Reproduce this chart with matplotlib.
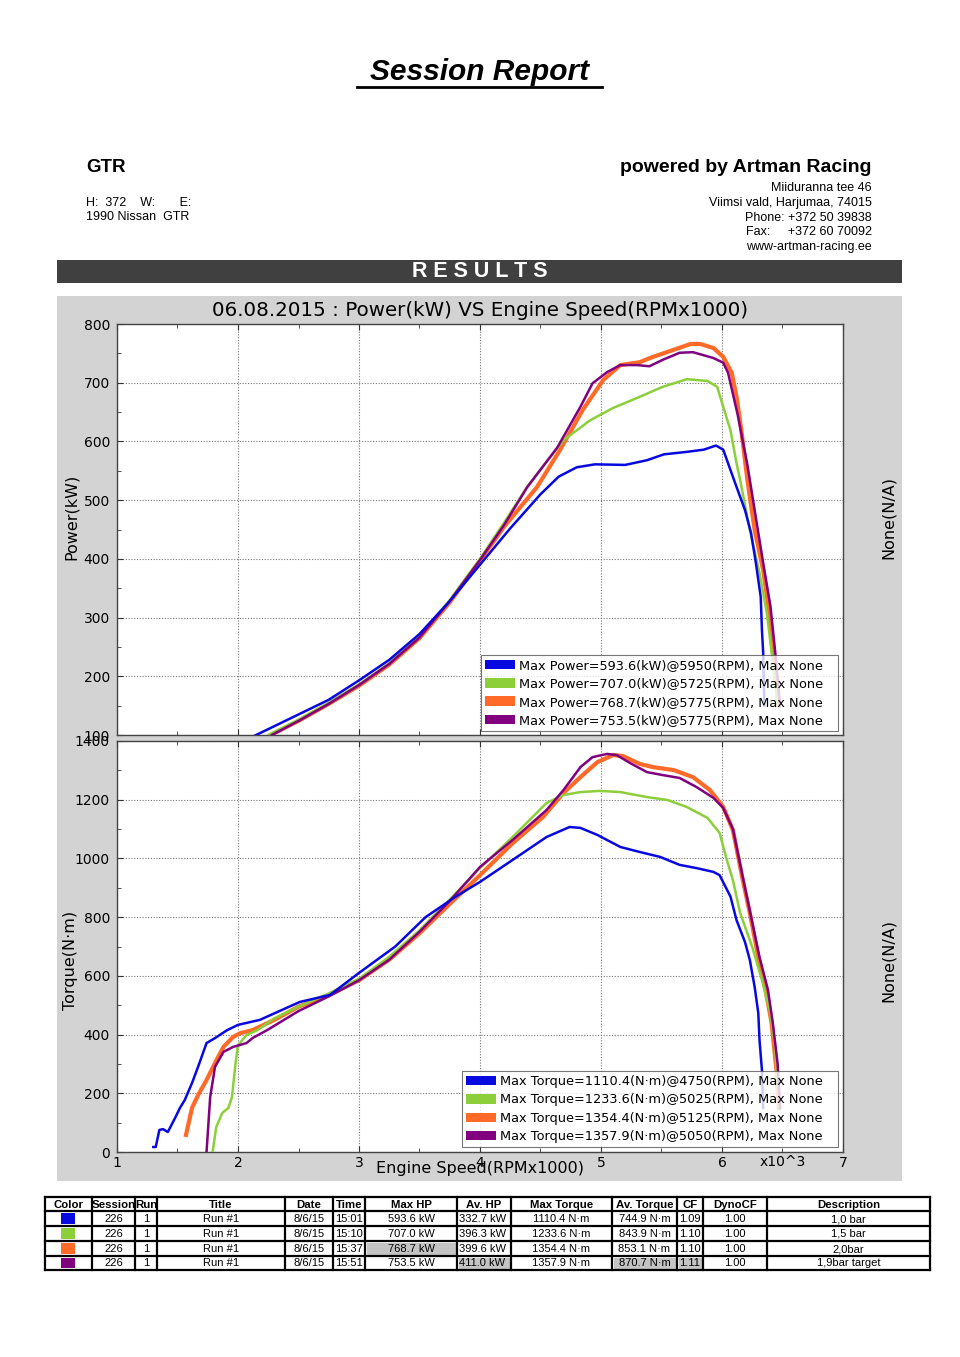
import matplotlib
matplotlib.use("Agg")
import matplotlib.pyplot as plt
from matplotlib.patches import Rectangle, Patch
from matplotlib.ticker import MultipleLocator

# ---------------- data ----------------
series_colors = ["#0808e0", "#8ccf3a", "#ff6a28", "#800080"]
series_lw = [1.8, 1.8, 3.0, 1.8]

max_power = [593.6, 707.0, 768.7, 753.5]
max_power_rpm = [5950, 5725, 5775, 5775]
max_torque = [1110.4, 1233.6, 1354.4, 1357.9]
max_torque_rpm = [4750, 5025, 5125, 5050]

# power curves (rpm x1000, kW)
blue_p_rpm = [2.10, 2.30, 2.50, 2.75, 3.00, 3.25, 3.50, 3.75, 4.00, 4.25, 4.50, 4.65, 4.80, 4.95, 5.20, 5.38, 5.52, 5.70, 5.85, 5.95, 6.01, 6.10, 6.19, 6.24, 6.28, 6.32, 6.33, 6.34, 6.35]
blue_p_kw = [95, 115, 135, 160, 193, 228, 272, 328, 390, 452, 510, 540, 556, 561, 560, 568, 578, 582, 586, 593, 586, 534, 483, 444, 393, 335, 279, 241, 150]

green_p_rpm = [2.25, 2.50, 2.75, 3.00, 3.25, 3.50, 3.75, 4.00, 4.20, 4.39, 4.69, 4.91, 5.10, 5.32, 5.51, 5.71, 5.88, 5.96, 6.01, 6.07, 6.12, 6.15, 6.23, 6.31, 6.37, 6.41, 6.46]
green_p_kw = [100, 126, 155, 186, 222, 268, 330, 400, 462, 523, 602, 636, 657, 676, 693, 706, 703, 693, 659, 619, 563, 534, 449, 376, 308, 241, 150]

orange_p_rpm = [2.27, 2.50, 2.75, 3.00, 3.25, 3.50, 3.75, 4.00, 4.20, 4.47, 4.66, 4.85, 5.02, 5.16, 5.32, 5.43, 5.60, 5.74, 5.82, 5.93, 6.01, 6.08, 6.12, 6.16, 6.21, 6.27, 6.34, 6.38, 6.42, 6.47]
orange_p_kw = [100, 124, 153, 184, 220, 265, 326, 397, 455, 522, 585, 654, 705, 730, 735, 744, 756, 766, 766, 759, 744, 717, 676, 619, 534, 449, 381, 325, 241, 150]

purple_p_rpm = [2.28, 2.50, 2.75, 3.00, 3.25, 3.50, 3.75, 4.00, 4.20, 4.39, 4.64, 4.83, 4.93, 5.05, 5.16, 5.30, 5.40, 5.51, 5.65, 5.76, 5.93, 6.01, 6.05, 6.13, 6.21, 6.28, 6.35, 6.40, 6.44, 6.48]
purple_p_kw = [100, 124, 153, 185, 221, 266, 328, 398, 458, 522, 590, 659, 699, 718, 730, 730, 728, 739, 751, 752, 742, 734, 717, 645, 560, 470, 381, 320, 241, 150]

# torque curves (rpm x1000, N·m)
blue_t_rpm = [1.30, 1.32, 1.35, 1.38, 1.42, 1.48, 1.52, 1.56, 1.62, 1.67, 1.74, 1.81, 1.91, 2.00, 2.18, 2.51, 2.76, 3.00, 3.30, 3.55, 3.80, 4.00, 4.27, 4.55, 4.74, 4.83, 4.97, 5.16, 5.32, 5.49, 5.65, 5.79, 5.93, 5.98, 6.07, 6.12, 6.19, 6.23, 6.27, 6.30, 6.31, 6.33, 6.34]
blue_t_nm = [17, 17, 75, 78, 68, 116, 150, 177, 235, 290, 371, 388, 415, 433, 450, 511, 535, 610, 700, 800, 870, 920, 995, 1073, 1107, 1104, 1080, 1039, 1022, 1005, 978, 967, 954, 943, 870, 790, 715, 654, 562, 473, 381, 279, 150]

green_t_rpm = [1.79, 1.82, 1.87, 1.92, 1.95, 1.98, 2.00, 2.07, 2.16, 2.30, 2.50, 2.75, 3.00, 3.25, 3.50, 3.75, 4.00, 4.27, 4.55, 4.69, 4.83, 4.99, 5.16, 5.38, 5.55, 5.71, 5.88, 5.98, 6.04, 6.09, 6.15, 6.25, 6.33, 6.40, 6.44, 6.45, 6.47]
green_t_nm = [0, 85, 133, 150, 187, 303, 364, 398, 415, 455, 495, 540, 590, 665, 755, 860, 967, 1073, 1189, 1216, 1226, 1230, 1226, 1209, 1199, 1175, 1138, 1087, 995, 926, 814, 698, 586, 473, 358, 279, 150]

orange_t_rpm = [1.57, 1.62, 1.67, 1.74, 1.81, 1.88, 1.96, 2.02, 2.12, 2.30, 2.50, 2.75, 3.00, 3.25, 3.50, 3.75, 4.00, 4.27, 4.52, 4.69, 4.83, 4.97, 5.10, 5.18, 5.32, 5.43, 5.60, 5.76, 5.90, 6.01, 6.09, 6.17, 6.23, 6.30, 6.36, 6.41, 6.45, 6.47]
orange_t_nm = [58, 150, 194, 245, 303, 358, 392, 405, 415, 450, 495, 535, 585, 655, 745, 845, 943, 1052, 1141, 1223, 1277, 1328, 1352, 1349, 1322, 1311, 1301, 1277, 1233, 1175, 1097, 930, 814, 664, 552, 439, 279, 150]

purple_t_rpm = [1.74, 1.77, 1.81, 1.88, 1.96, 2.07, 2.12, 2.24, 2.50, 2.75, 3.00, 3.25, 3.50, 3.75, 4.00, 4.27, 4.55, 4.69, 4.83, 4.93, 5.05, 5.13, 5.24, 5.38, 5.51, 5.65, 5.79, 5.93, 6.01, 6.09, 6.17, 6.31, 6.38, 6.42, 6.46, 6.48]
purple_t_nm = [0, 187, 290, 341, 358, 371, 388, 415, 480, 530, 585, 655, 750, 855, 971, 1063, 1165, 1233, 1311, 1345, 1356, 1352, 1325, 1294, 1284, 1274, 1243, 1206, 1172, 1100, 940, 664, 552, 439, 300, 150]

power_rpm = [blue_p_rpm, green_p_rpm, orange_p_rpm, purple_p_rpm]
power_kw = [blue_p_kw, green_p_kw, orange_p_kw, purple_p_kw]
torque_rpm = [blue_t_rpm, green_t_rpm, orange_t_rpm, purple_t_rpm]
torque_nm = [blue_t_nm, green_t_nm, orange_t_nm, purple_t_nm]
draw_order = [2, 1, 3, 0]

# table
table_headers = ["Color", "Session", "Run", "Title", "Date", "Time", "Max HP", "Av. HP",
                 "Max Torque", "Av. Torque", "CF", "DynoCF", "Description"]
tbl_session = ["226", "226", "226", "226"]
tbl_run = ["1", "1", "1", "1"]
tbl_title = ["Run #1", "Run #1", "Run #1", "Run #1"]
tbl_date = ["8/6/15", "8/6/15", "8/6/15", "8/6/15"]
tbl_time = ["15:01", "15:10", "15:37", "15:51"]
tbl_max_hp = [593.6, 707.0, 768.7, 753.5]
tbl_av_hp = [332.7, 396.3, 399.6, 411.0]
tbl_max_tq = [1110.4, 1233.6, 1354.4, 1357.9]
tbl_av_tq = [744.9, 843.9, 853.1, 870.7]
tbl_cf = [1.09, 1.10, 1.10, 1.11]
tbl_dynocf = [1.00, 1.00, 1.00, 1.00]
tbl_desc = ["1,0 bar", "1,5 bar", "2,0bar", "1,9bar target"]

address_lines = ["Miiduranna tee 46", "Viimsi vald, Harjumaa, 74015",
                 "Phone: +372 50 39838", "Fax:     +372 60 70092", "www-artman-racing.ee"]

# ---------------- figure ----------------
W, H = 960, 1357
fig = plt.figure(figsize=(W / 100, H / 100), dpi=100)
fig.patch.set_facecolor("white")

bg = fig.add_axes([0, 0, 1, 1], zorder=0)
bg.set_xlim(0, W)
bg.set_ylim(H, 0)
bg.axis("off")

SANS = "Liberation Sans"

# header
bg.text(480, 72, "Session Report", ha="center", va="center", fontsize=21.5,
        fontweight="bold", fontstyle="italic", family=SANS)
bg.plot([357, 602], [87, 87], color="black", lw=2)

bg.text(86, 167, "GTR", ha="left", va="center", fontsize=13.5, fontweight="bold", family=SANS)
bg.text(86, 203, "H:  372    W:       E:", ha="left", va="center", fontsize=9, family=SANS)
bg.text(86, 217, "1990 Nissan  GTR", ha="left", va="center", fontsize=9, family=SANS)

bg.text(872, 167, "powered by Artman Racing", ha="right", va="center", fontsize=14,
        fontweight="bold", family=SANS)
for i, line in enumerate(address_lines):
    bg.text(872, 188 + i * 14.8, line, ha="right", va="center", fontsize=9, family=SANS)

# results bar
bg.add_patch(Rectangle((57, 260), 845, 23, facecolor="#404040", edgecolor="none"))
bg.text(480, 271.5, "R E S U L T S", ha="center", va="center", fontsize=15.5,
        fontweight="bold", color="white", family=SANS)

# grey chart panel
bg.add_patch(Rectangle((57, 296), 845, 885, facecolor="#d3d3d3", edgecolor="none"))

# ---------------- charts ----------------
def fx(px):
    return px / W

def fy(py):
    return 1 - py / H

ax_left, ax_right = 117, 843
ax_p = fig.add_axes([fx(ax_left), fy(735), (ax_right - ax_left) / W, 411 / H], zorder=2)
ax_t = fig.add_axes([fx(ax_left), fy(1152), (ax_right - ax_left) / W, 411 / H], zorder=2)

for ax in (ax_p, ax_t):
    ax.set_facecolor("white")
    ax.set_xlim(1, 7)
    ax.xaxis.set_major_locator(MultipleLocator(1))
    ax.xaxis.set_minor_locator(MultipleLocator(0.5))
    ax.grid(True, which="major", linestyle=(0, (1, 1.5)), color="#777777", lw=0.8)
    ax.tick_params(which="both", direction="in", top=True, right=False,
                   color="#333333", labelsize=10)
    ax.tick_params(which="major", length=4)
    ax.tick_params(which="minor", length=3)
    for s in ax.spines.values():
        s.set_color("#444444")
        s.set_linewidth(1.0)

ax_p.set_ylim(100, 800)
ax_p.yaxis.set_major_locator(MultipleLocator(100))
ax_p.yaxis.set_minor_locator(MultipleLocator(50))
ax_p.tick_params(axis="x", labelbottom=False)

ax_t.set_ylim(0, 1400)
ax_t.yaxis.set_major_locator(MultipleLocator(200))
ax_t.yaxis.set_minor_locator(MultipleLocator(100))
ax_t.tick_params(axis="x", pad=3)
ax_t.tick_params(axis="y", pad=5)
ax_p.tick_params(axis="y", pad=5)

for i in draw_order:
    ax_p.plot(power_rpm[i], power_kw[i], color=series_colors[i], lw=series_lw[i],
              solid_joinstyle="round", zorder=3)
    ax_t.plot(torque_rpm[i], torque_nm[i], color=series_colors[i], lw=series_lw[i],
              solid_joinstyle="round", zorder=3)

p_labels = [f"Max Power={p:.1f}(kW)@{r}(RPM), Max None" for p, r in zip(max_power, max_power_rpm)]
t_labels = [f"Max Torque={t:.1f}(N\u00b7m)@{r}(RPM), Max None" for t, r in zip(max_torque, max_torque_rpm)]
handles = [Patch(facecolor=c, edgecolor="none") for c in series_colors]

# legend boxes (axes fraction: x0, y0, width, height)
legend_boxes = [(0.5014, 0.0097, 0.4917, 0.19), (0.4752, 0.012, 0.5179, 0.19)]
for ax, labels, box in ((ax_p, p_labels, legend_boxes[0]), (ax_t, t_labels, legend_boxes[1])):
    leg = ax.legend(handles, labels, loc="lower left", bbox_to_anchor=box, mode="expand",
                    fontsize=9.3, frameon=True, fancybox=False, borderpad=0.3,
                    labelspacing=0.42, handlelength=2.3, handleheight=0.75,
                    handletextpad=0.35, borderaxespad=0)
    leg.get_frame().set_edgecolor("#555555")
    leg.get_frame().set_linewidth(0.8)
    leg.set_zorder(10)

# chart titles / axis labels
fig.text(fx(480), fy(310), "06.08.2015 : Power(kW) VS Engine Speed(RPMx1000)",
         ha="center", va="center", fontsize=14.3)
fig.text(fx(71), fy(517), "Power(kW)", rotation=90, ha="center", va="center", fontsize=11.5)
fig.text(fx(888), fy(517), "None(N/A)", rotation=90, ha="center", va="center", fontsize=11.5)
fig.text(fx(71), fy(960), "Torque(N\u00b7m)", rotation=90, ha="center", va="center", fontsize=11.5)
fig.text(fx(888), fy(960), "None(N/A)", rotation=90, ha="center", va="center", fontsize=11.5)
fig.text(fx(480), fy(1169), "Engine Speed(RPMx1000)", ha="center", va="center", fontsize=11.5, zorder=5)
fig.text(fx(783), fy(1162), "x10^3", ha="center", va="center", fontsize=10)

# ---------------- table ----------------
col_x = [45, 92, 135, 157, 285, 333, 365, 457, 511, 612, 677, 703, 767, 930]
row_y = [1197, 1211, 1226, 1241, 1256, 1270]

cells = []
for r in range(4):
    cells.append(["", tbl_session[r], tbl_run[r], tbl_title[r], tbl_date[r], tbl_time[r],
                  f"{tbl_max_hp[r]:.1f} kW", f"{tbl_av_hp[r]:.1f} kW",
                  f"{tbl_max_tq[r]:.1f} N\u00b7m", f"{tbl_av_tq[r]:.1f} N\u00b7m",
                  f"{tbl_cf[r]:.2f}", f"{tbl_dynocf[r]:.2f}", tbl_desc[r]])

# highlighted cells (row, col)
highlight = {(2, 6), (3, 7), (3, 9), (3, 10)}
for (r, c) in highlight:
    bg.add_patch(Rectangle((col_x[c] + 1.5, row_y[r + 1] + 1.5),
                           col_x[c + 1] - col_x[c] - 3, row_y[r + 2] - row_y[r + 1] - 3,
                           facecolor="#c4c4c4", edgecolor="none"))

for c, h in enumerate(table_headers):
    xc = (col_x[c] + col_x[c + 1]) / 2
    bg.text(xc, (row_y[0] + row_y[1]) / 2 + 0.5, h, ha="center", va="center",
            fontsize=8.2, fontweight="bold", family=SANS)

left_cols = {7, 10}
for r in range(4):
    yc = (row_y[r + 1] + row_y[r + 2]) / 2 + 0.5
    # color swatch
    bg.add_patch(Rectangle((61, row_y[r + 1] + 2), 14, row_y[r + 2] - row_y[r + 1] - 4,
                           facecolor=series_colors[r], edgecolor="none"))
    for c in range(1, 13):
        if c in left_cols:
            bg.text(col_x[c] + 2, yc, cells[r][c], ha="left", va="center", fontsize=8, family=SANS)
        else:
            bg.text((col_x[c] + col_x[c + 1]) / 2, yc, cells[r][c], ha="center", va="center",
                    fontsize=8, family=SANS)

for x in col_x:
    bg.plot([x, x], [row_y[0], row_y[-1]], color="black", lw=1.6, solid_capstyle="projecting")
for y in row_y:
    bg.plot([col_x[0], col_x[-1]], [y, y], color="black", lw=1.6, solid_capstyle="projecting")

fig.savefig("out.png", dpi=100, facecolor="white")
